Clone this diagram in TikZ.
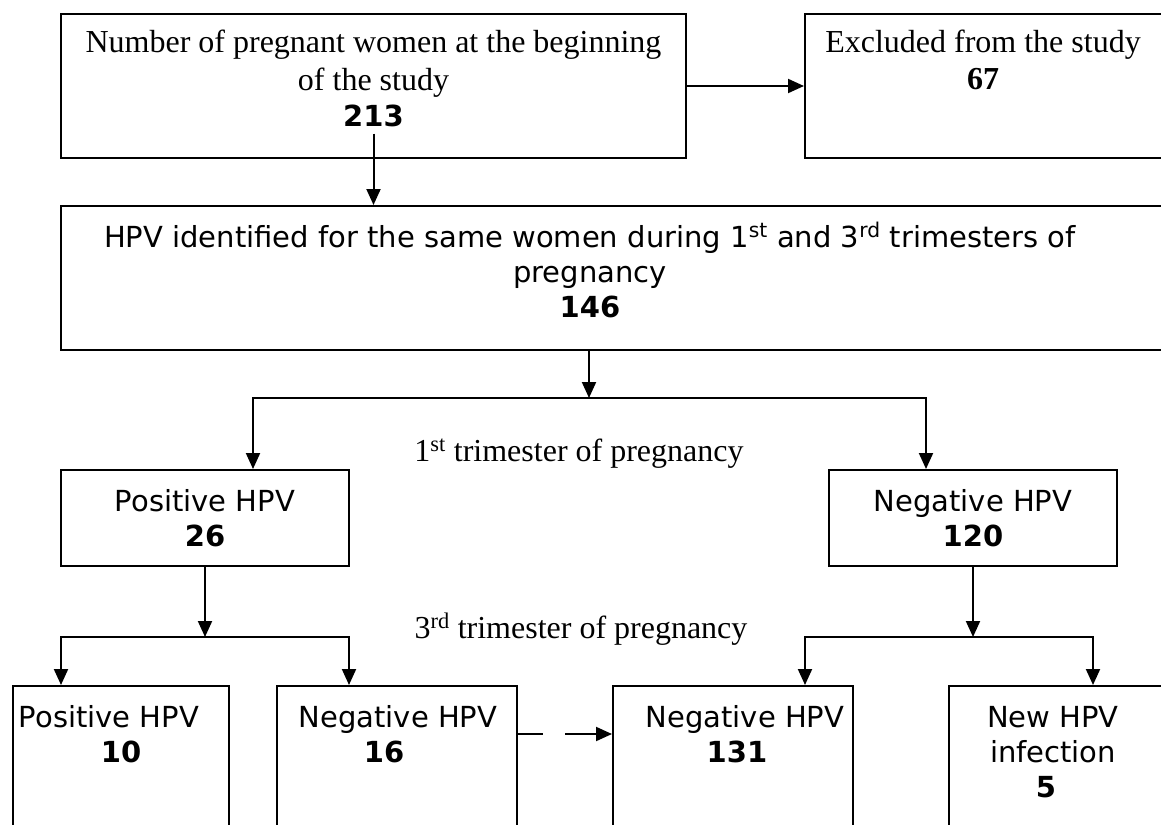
\documentclass[tikz,border=0pt]{standalone}
\usepackage{fontspec}
\setmainfont{Liberation Serif}
\newfontfamily\vsans{DejaVu Sans}
\usetikzlibrary{arrows.meta}
\begin{document}
\begin{tikzpicture}[x=1pt,y=-1pt,
  box/.style={draw, line width=2pt, inner sep=0pt},
  ser/.style={font=\fontsize{32}{37}\selectfont, inner sep=0pt, anchor=base},
  serb/.style={font=\fontsize{32}{37}\selectfont\bfseries, inner sep=0pt, anchor=base},
  san/.style={font=\vsans\fontsize{29}{35}\selectfont, inner sep=0pt, anchor=base},
  sanb/.style={font=\vsans\bfseries\fontsize{29}{35}\selectfont, inner sep=0pt, anchor=base},
  arr/.style={line width=2pt, -{Triangle[length=16pt,width=14pt]}}
]
\useasboundingbox (0,0) rectangle (1161,824);
\clip (0,0) rectangle (1161,824);
% boxes
\node[box, minimum width=625pt, minimum height=144pt] (top) at (373.5,86) {};
\node[box, minimum width=365pt, minimum height=144pt] (excl) at (987.5,86) {};
\node[box, minimum width=1109pt, minimum height=144pt] (hpv) at (615.5,278) {};
\node[box, minimum width=288pt, minimum height=96pt] (pos1) at (205,518) {};
\node[box, minimum width=288pt, minimum height=96pt] (neg1) at (973,518) {};
\node[box, minimum width=216pt, minimum height=164pt] (posA) at (121,768) {};
\node[box, minimum width=240pt, minimum height=164pt] (negA) at (397,768) {};
\node[box, minimum width=240pt, minimum height=164pt] (negB) at (733,768) {};
\node[box, minimum width=221pt, minimum height=164pt] (newB) at (1059.5,768) {};
% texts
\node[ser] (t1a) at (373.5,53) {Number of pregnant women at the beginning};
\node[ser] (t1b) at (373.5,91) {of the study};
\node[sanb] (t1c) at (373.5,127) {213};
\node[ser] (t2a) at (983,53) {Excluded from the study};
\node[serb] (t2b) at (983,90) {67};
\node[san] (t3a) at (590,247) {HPV identified for the same women during 1\textsuperscript{st} and 3\textsuperscript{rd} trimesters of};
\node[san] (t3b) at (590,282) {pregnancy};
\node[sanb] (t3c) at (590,317) {146};
\node[ser] (l1) at (579,461) {1\textsuperscript{st} trimester of pregnancy};
\node[san] (t4a) at (205,511) {Positive HPV};
\node[sanb] (t4b) at (205,546) {26};
\node[san] (t5a) at (973,511) {Negative HPV};
\node[sanb] (t5b) at (973,546) {120};
\node[ser] (l3) at (581,638) {3\textsuperscript{rd} trimester of pregnancy};
\node[san] (t6a) at (109,727) {Positive HPV};
\node[sanb] (t6b) at (121,762) {10};
\node[san] (t7a) at (398,727) {Negative HPV};
\node[sanb] (t7b) at (384,762) {16};
\node[san] (t8a) at (745,727) {Negative HPV};
\node[sanb] (t8b) at (737,762) {131};
\node[san] (t9a) at (1053,727) {New HPV};
\node[san] (t9b) at (1053,762) {infection};
\node[sanb] (t9c) at (1046,797) {5};
% connectors
\coordinate (b1) at (589,398);
\coordinate (bL) at (253,398);
\coordinate (bR) at (926,398);
\coordinate (cL) at (205,637);
\coordinate (dL) at (61,637);
\coordinate (dR) at (349,637);
\coordinate (cR) at (973,637);
\coordinate (eL) at (805,637);
\coordinate (eR) at (1093,637);
\coordinate (dy) at (0,734);
\draw[arr] (top.east) -- (excl.west);
\draw[arr] ([yshift=-6pt]t1c.south) -- (t1c.south |- hpv.north);
\draw[arr] (b1 |- hpv.south) -- (b1);
\draw[arr] (b1) -| (bL |- pos1.north);
\draw[arr] (b1) -| (bR |- neg1.north);
\draw[arr] (pos1.south) -- (cL);
\draw[arr] (cL) -| (dL |- posA.north);
\draw[arr] (cL) -| (dR |- negA.north);
\draw[arr] (neg1.south) -- (cR);
\draw[arr] (cR) -| (eL |- negB.north);
\draw[arr] (cR) -| (eR |- newB.north);
\draw[arr, dash pattern=on 25pt off 22pt on 300pt] (negA.east |- dy) -- (negB.west |- dy);
\end{tikzpicture}
\end{document}
